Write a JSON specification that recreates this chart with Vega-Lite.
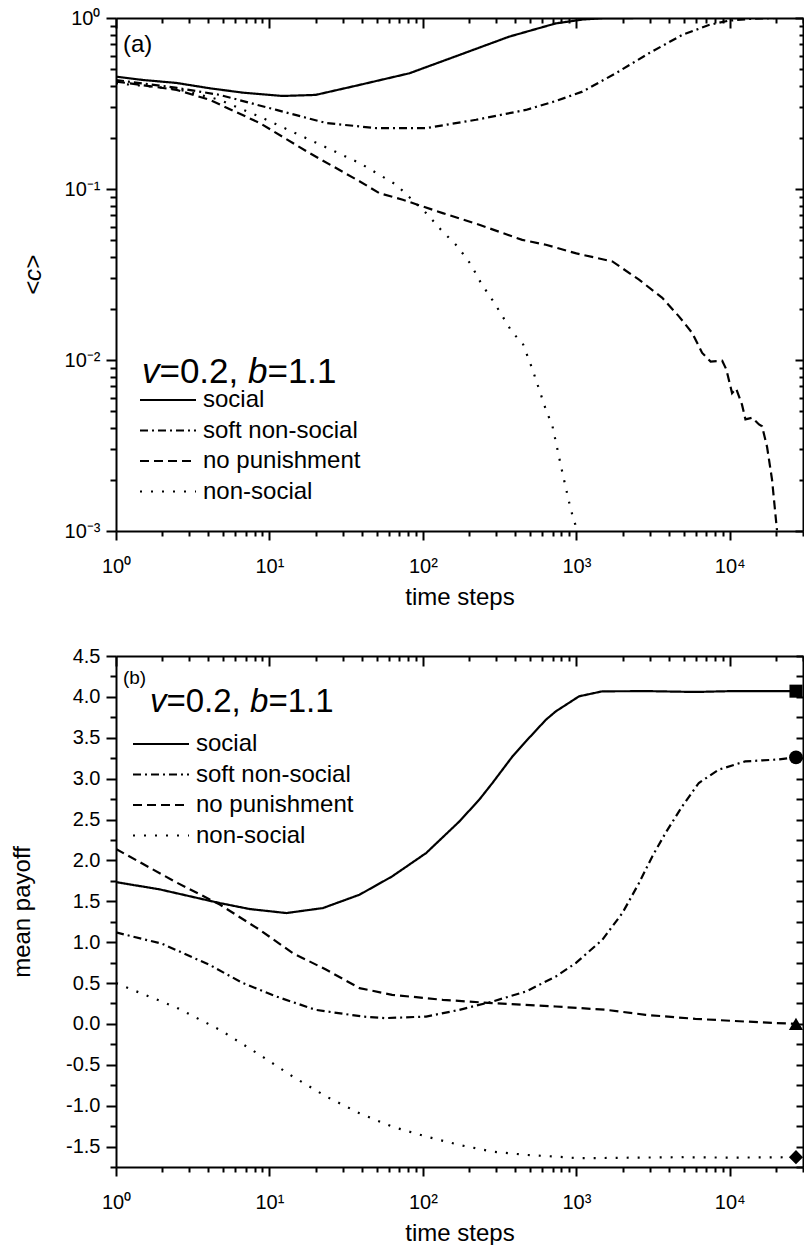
{
  "$schema": "https://vega.github.io/schema/vega-lite/v6.json",
  "background": "white",
  "padding": {"left": 10, "top": 8, "right": 0, "bottom": 0},
  "bounds": "flush",
  "spacing": 125,
  "config": {
    "font": "Liberation Sans",
    "view": {"stroke": null},
    "axis": {
      "domainColor": "black", "domainWidth": 2, "tickColor": "black", "tickWidth": 2,
      "labelColor": "black", "titleColor": "black", "labelFont": "Liberation Sans", "titleFont": "Liberation Sans",
      "labelFontSize": 20, "titleFontSize": 24, "titleFontWeight": "normal", "grid": false,
      "labelFlush": false, "labelOverlap": false
    },
    "legend": {
      "labelFont": "Liberation Sans", "labelFontSize": 24, "labelColor": "black",
      "symbolType": "M-2,0H2", "symbolSize": 784, "symbolStrokeWidth": 2, "symbolStrokeColor": "black",
      "padding": 0, "labelOffset": 20, "rowPadding": 3.5
    }
  },
  "datasets": {
    "c": [
      {"s":"social","t":1,"c":0.454},{"s":"social","t":1.5,"c":0.434},{"s":"social","t":2.48,"c":0.417},{"s":"social","t":4.1,"c":0.388},{"s":"social","t":6.7,"c":0.366},{"s":"social","t":12.2,"c":0.35},{"s":"social","t":20,"c":0.355},{"s":"social","t":38.6,"c":0.406},{"s":"social","t":81.7,"c":0.475},{"s":"social","t":173,"c":0.608},{"s":"social","t":365,"c":0.778},{"s":"social","t":735,"c":0.93},{"s":"social","t":1100,"c":0.98},{"s":"social","t":1500,"c":0.997},{"s":"social","t":2500,"c":1},{"s":"social","t":10000,"c":1},{"s":"social","t":27000,"c":1},
      {"s":"soft non-social","t":1,"c":0.434},{"s":"soft non-social","t":2.5,"c":0.39},{"s":"soft non-social","t":4.75,"c":0.355},{"s":"soft non-social","t":11.1,"c":0.29},{"s":"soft non-social","t":23.5,"c":0.243},{"s":"soft non-social","t":49.6,"c":0.227},{"s":"soft non-social","t":105,"c":0.227},{"s":"soft non-social","t":222,"c":0.254},{"s":"soft non-social","t":469,"c":0.29},{"s":"soft non-social","t":735,"c":0.327},{"s":"soft non-social","t":1095,"c":0.371},{"s":"soft non-social","t":1806,"c":0.475},{"s":"soft non-social","t":2972,"c":0.622},{"s":"soft non-social","t":4896,"c":0.796},{"s":"soft non-social","t":7300,"c":0.91},{"s":"soft non-social","t":9840,"c":0.965},{"s":"soft non-social","t":14000,"c":0.99},{"s":"soft non-social","t":20000,"c":1},{"s":"soft non-social","t":27000,"c":1},
      {"s":"no punishment","t":1,"c":0.425},{"s":"no punishment","t":2.48,"c":0.38},{"s":"no punishment","t":4.09,"c":0.332},{"s":"no punishment","t":8.64,"c":0.243},{"s":"no punishment","t":18.3,"c":0.162},{"s":"no punishment","t":38.6,"c":0.111},{"s":"no punishment","t":52,"c":0.0946},{"s":"no punishment","t":74,"c":0.0865},{"s":"no punishment","t":134.6,"c":0.0723},{"s":"no punishment","t":233,"c":0.0618},{"s":"no punishment","t":444,"c":0.0504},{"s":"no punishment","t":633,"c":0.0472},{"s":"no punishment","t":1000,"c":0.042},{"s":"no punishment","t":1717,"c":0.0377},{"s":"no punishment","t":2561,"c":0.0295},{"s":"no punishment","t":3631,"c":0.0231},{"s":"no punishment","t":4660,"c":0.018},{"s":"no punishment","t":5689,"c":0.0144},{"s":"no punishment","t":6607,"c":0.011},{"s":"no punishment","t":7500,"c":0.0098},{"s":"no punishment","t":8920,"c":0.0099},{"s":"no punishment","t":9500,"c":0.0088},{"s":"no punishment","t":10350,"c":0.0064},{"s":"no punishment","t":11000,"c":0.0068},{"s":"no punishment","t":12000,"c":0.0055},{"s":"no punishment","t":12650,"c":0.0045},{"s":"no punishment","t":14000,"c":0.0046},{"s":"no punishment","t":15500,"c":0.0042},{"s":"no punishment","t":16230,"c":0.0041},{"s":"no punishment","t":17500,"c":0.0031},{"s":"no punishment","t":18850,"c":0.002},{"s":"no punishment","t":20300,"c":0.00101},
      {"s":"non-social","t":1,"c":0.415},{"s":"non-social","t":2.48,"c":0.385},{"s":"non-social","t":4.75,"c":0.332},{"s":"non-social","t":8.64,"c":0.265},{"s":"non-social","t":18.3,"c":0.194},{"s":"non-social","t":38.6,"c":0.142},{"s":"non-social","t":67,"c":0.106},{"s":"non-social","t":105,"c":0.0723},{"s":"non-social","t":131,"c":0.0578},{"s":"non-social","t":168,"c":0.0462},{"s":"non-social","t":206,"c":0.0361},{"s":"non-social","t":239,"c":0.0282},{"s":"non-social","t":292,"c":0.0216},{"s":"non-social","t":384,"c":0.0144},{"s":"non-social","t":446,"c":0.0126},{"s":"non-social","t":518,"c":0.0088},{"s":"non-social","t":633,"c":0.00513},{"s":"non-social","t":699,"c":0.0041},{"s":"non-social","t":811,"c":0.0022},{"s":"non-social","t":919,"c":0.00134},{"s":"non-social","t":991,"c":0.00107},{"s":"non-social","t":1000,"c":0.001}
    ],
    "p": [
      {"s":"social","t":1,"v":1.735},{"s":"social","t":1.93,"v":1.645},{"s":"social","t":4.75,"v":1.478},{"s":"social","t":7.44,"v":1.405},{"s":"social","t":12.9,"v":1.356},{"s":"social","t":22.3,"v":1.417},{"s":"social","t":38.6,"v":1.58},{"s":"social","t":63,"v":1.804},{"s":"social","t":105,"v":2.09},{"s":"social","t":173,"v":2.477},{"s":"social","t":233,"v":2.743},{"s":"social","t":284,"v":2.947},{"s":"social","t":384,"v":3.273},{"s":"social","t":469,"v":3.456},{"s":"social","t":633,"v":3.72},{"s":"social","t":735,"v":3.823},{"s":"social","t":1042,"v":4.007},{"s":"social","t":1477,"v":4.068},{"s":"social","t":3000,"v":4.07},{"s":"social","t":5960,"v":4.06},{"s":"social","t":10000,"v":4.07},{"s":"social","t":27000,"v":4.07},
      {"s":"soft non-social","t":1,"v":1.119},{"s":"soft non-social","t":2,"v":0.98},{"s":"soft non-social","t":4.09,"v":0.72},{"s":"soft non-social","t":6.7,"v":0.5},{"s":"soft non-social","t":11.1,"v":0.335},{"s":"soft non-social","t":20,"v":0.172},{"s":"soft non-social","t":40.6,"v":0.09},{"s":"soft non-social","t":57,"v":0.071},{"s":"soft non-social","t":105,"v":0.09},{"s":"soft non-social","t":173,"v":0.172},{"s":"soft non-social","t":284,"v":0.274},{"s":"soft non-social","t":469,"v":0.396},{"s":"soft non-social","t":735,"v":0.58},{"s":"soft non-social","t":991,"v":0.744},{"s":"soft non-social","t":1477,"v":1.029},{"s":"soft non-social","t":1995,"v":1.356},{"s":"soft non-social","t":2561,"v":1.723},{"s":"soft non-social","t":3126,"v":2.049},{"s":"soft non-social","t":3812,"v":2.335},{"s":"soft non-social","t":4896,"v":2.661},{"s":"soft non-social","t":6283,"v":2.947},{"s":"soft non-social","t":8478,"v":3.11},{"s":"soft non-social","t":12600,"v":3.211},{"s":"soft non-social","t":20800,"v":3.235},{"s":"soft non-social","t":27000,"v":3.26},
      {"s":"no punishment","t":1,"v":2.139},{"s":"no punishment","t":2.48,"v":1.73},{"s":"no punishment","t":4.75,"v":1.46},{"s":"no punishment","t":8.64,"v":1.151},{"s":"no punishment","t":14.2,"v":0.866},{"s":"no punishment","t":23.5,"v":0.662},{"s":"no punishment","t":38.6,"v":0.438},{"s":"no punishment","t":63,"v":0.356},{"s":"no punishment","t":134.6,"v":0.295},{"s":"no punishment","t":284,"v":0.254},{"s":"no punishment","t":735,"v":0.213},{"s":"no punishment","t":1573,"v":0.172},{"s":"no punishment","t":2827,"v":0.111},{"s":"no punishment","t":5960,"v":0.062},{"s":"no punishment","t":12600,"v":0.029},{"s":"no punishment","t":27000,"v":0.0},
      {"s":"non-social","t":1,"v":0.499},{"s":"non-social","t":2.48,"v":0.2},{"s":"non-social","t":4.75,"v":-0.072},{"s":"non-social","t":8.64,"v":-0.378},{"s":"non-social","t":14.2,"v":-0.644},{"s":"non-social","t":23.5,"v":-0.889},{"s":"non-social","t":38.6,"v":-1.092},{"s":"non-social","t":63,"v":-1.256},{"s":"non-social","t":105,"v":-1.378},{"s":"non-social","t":173,"v":-1.48},{"s":"non-social","t":284,"v":-1.562},{"s":"non-social","t":469,"v":-1.602},{"s":"non-social","t":735,"v":-1.623},{"s":"non-social","t":1042,"v":-1.643},{"s":"non-social","t":4660,"v":-1.63},{"s":"non-social","t":10000,"v":-1.635},{"s":"non-social","t":27000,"v":-1.63}
    ],
    "m": [
      {"k":"social","t":27000,"v":4.07},{"k":"soft non-social","t":27000,"v":3.26},{"k":"no punishment","t":27000,"v":0.0},{"k":"non-social","t":27000,"v":-1.63}
    ]
  },
  "resolve": {
    "scale": {"x": "independent", "y": "independent", "strokeDash": "independent"},
    "legend": {"strokeDash": "independent"}
  },
  "vconcat": [
    {
      "width": 687,
      "height": 513,
      "resolve": {"axis": {"x": "independent", "y": "independent"}},
      "layer": [
        {
          "data": {"name": "c"},
          "mark": {"type": "line", "strokeWidth": 2.2, "color": "black", "clip": true},
          "encoding": {
            "x": {"field": "t", "type": "quantitative",
              "scale": {"type": "log", "domain": [1, 30000], "nice": false},
              "axis": {"orient": "bottom", "title": "time steps",
                "values": [1,2,3,4,5,6,7,8,9,10,20,30,40,50,60,70,80,90,100,200,300,400,500,600,700,800,900,1000,2000,3000,4000,5000,6000,7000,8000,9000,10000,20000,30000],
                "labelExpr": "abs(log(datum.value)/LN10 - round(log(datum.value)/LN10)) < 1e-6 ? ['10⁻³','10⁻²','10⁻¹','10⁰','10¹','10²','10³','10⁴'][round(log(datum.value)/LN10)+3] : ''",
                "tickSize": {"condition": {"test": "abs(log(datum.value)/LN10 - round(log(datum.value)/LN10)) < 1e-6", "value": 9}, "value": 5},
                "labelPadding": 16, "titlePadding": 9}},
            "y": {"field": "c", "type": "quantitative",
              "scale": {"type": "log", "domain": [0.001, 1], "nice": false},
              "axis": {"orient": "left", "title": "<c>", "titleFontStyle": "italic",
                "values": [0.001,0.002,0.003,0.004,0.005,0.006,0.007,0.008,0.009,0.01,0.02,0.03,0.04,0.05,0.06,0.07,0.08,0.09,0.1,0.2,0.3,0.4,0.5,0.6,0.7,0.8,0.9,1],
                "labelExpr": "abs(log(datum.value)/LN10 - round(log(datum.value)/LN10)) < 1e-6 ? ['10⁻³','10⁻²','10⁻¹','10⁰','10¹','10²','10³','10⁴'][round(log(datum.value)/LN10)+3] : ''",
                "tickSize": {"condition": {"test": "abs(log(datum.value)/LN10 - round(log(datum.value)/LN10)) < 1e-6", "value": 10}, "value": 6},
                "labelPadding": 6, "titlePadding": 19}},
            "strokeDash": {"field": "s", "type": "nominal",
              "scale": {"domain": ["social", "soft non-social", "no punishment", "non-social"], "range": [[1, 0], [8, 4, 2, 4], [9, 5], [2, 9]]},
              "legend": {"orient": "none", "legendX": 37, "legendY": 367, "title": null}}
          }
        },
        {
          "data": {"values": [{}]},
          "mark": {"type": "text", "text": "(a)", "align": "left", "baseline": "middle", "fontSize": 24, "color": "black"},
          "encoding": {
            "x": {"datum": 1.11, "type": "quantitative",
              "axis": {"orient": "top", "title": null, "labels": false, "domain": true,
                "values": [1,2,3,4,5,6,7,8,9,10,20,30,40,50,60,70,80,90,100,200,300,400,500,600,700,800,900,1000,2000,3000,4000,5000,6000,7000,8000,9000,10000,20000,30000],
                "tickSize": {"condition": {"test": "abs(log(datum.value)/LN10 - round(log(datum.value)/LN10)) < 1e-6", "value": -10}, "value": -5}}},
            "y": {"datum": 0.695, "type": "quantitative",
              "axis": {"orient": "right", "title": null, "labels": false, "domain": true,
                "values": [0.001,0.002,0.003,0.004,0.005,0.006,0.007,0.008,0.009,0.01,0.02,0.03,0.04,0.05,0.06,0.07,0.08,0.09,0.1,0.2,0.3,0.4,0.5,0.6,0.7,0.8,0.9,1],
                "tickSize": {"condition": {"test": "abs(log(datum.value)/LN10 - round(log(datum.value)/LN10)) < 1e-6", "value": -8}, "value": -4}}}
          }
        },
        {
          "data": {"values": [{}]},
          "mark": {"type": "text", "text": "v", "align": "left", "baseline": "middle", "fontSize": 35, "fontStyle": "italic", "color": "black"},
          "encoding": {"x": {"datum": 1.476, "type": "quantitative", "axis": null}, "y": {"datum": 0.00855, "type": "quantitative", "axis": null}}
        },
        {
          "data": {"values": [{}]},
          "mark": {"type": "text", "text": "=0.2,", "align": "left", "baseline": "middle", "fontSize": 35, "dx": 17.5, "color": "black"},
          "encoding": {"x": {"datum": 1.476, "type": "quantitative", "axis": null}, "y": {"datum": 0.00855, "type": "quantitative", "axis": null}}
        },
        {
          "data": {"values": [{}]},
          "mark": {"type": "text", "text": "b", "align": "left", "baseline": "middle", "fontSize": 35, "fontStyle": "italic", "dx": 106, "color": "black"},
          "encoding": {"x": {"datum": 1.476, "type": "quantitative", "axis": null}, "y": {"datum": 0.00855, "type": "quantitative", "axis": null}}
        },
        {
          "data": {"values": [{}]},
          "mark": {"type": "text", "text": "=1.1", "align": "left", "baseline": "middle", "fontSize": 35, "dx": 125.5, "color": "black"},
          "encoding": {"x": {"datum": 1.476, "type": "quantitative", "axis": null}, "y": {"datum": 0.00855, "type": "quantitative", "axis": null}}
        }
      ]
    },
    {
      "width": 687,
      "height": 511,
      "resolve": {"axis": {"x": "independent", "y": "independent"}},
      "layer": [
        {
          "data": {"name": "p"},
          "mark": {"type": "line", "strokeWidth": 2.2, "color": "black", "clip": true},
          "encoding": {
            "x": {"field": "t", "type": "quantitative",
              "scale": {"type": "log", "domain": [1, 30000], "nice": false},
              "axis": {"orient": "bottom", "title": "time steps",
                "values": [1,2,3,4,5,6,7,8,9,10,20,30,40,50,60,70,80,90,100,200,300,400,500,600,700,800,900,1000,2000,3000,4000,5000,6000,7000,8000,9000,10000,20000,30000],
                "labelExpr": "abs(log(datum.value)/LN10 - round(log(datum.value)/LN10)) < 1e-6 ? ['10⁻³','10⁻²','10⁻¹','10⁰','10¹','10²','10³','10⁴'][round(log(datum.value)/LN10)+3] : ''",
                "tickSize": {"condition": {"test": "abs(log(datum.value)/LN10 - round(log(datum.value)/LN10)) < 1e-6", "value": 9}, "value": 5},
                "labelPadding": 16, "titlePadding": 9}},
            "y": {"field": "v", "type": "quantitative",
              "scale": {"domain": [-1.75, 4.5], "nice": false, "zero": false},
              "axis": {"orient": "left", "title": "mean payoff",
                "values": [-1.75,-1.5,-1.25,-1,-0.75,-0.5,-0.25,0,0.25,0.5,0.75,1,1.25,1.5,1.75,2,2.25,2.5,2.75,3,3.25,3.5,3.75,4,4.25,4.5],
                "labelExpr": "abs(datum.value*2 - round(datum.value*2)) < 1e-6 ? (datum.value < 0 ? '-' : '') + format(abs(datum.value), '.1f') : ''",
                "tickSize": {"condition": {"test": "abs(datum.value*2 - round(datum.value*2)) < 1e-6", "value": 10}, "value": 6},
                "labelPadding": 6, "titlePadding": 31}},
            "strokeDash": {"field": "s", "type": "nominal",
              "scale": {"domain": ["social", "soft non-social", "no punishment", "non-social"], "range": [[1, 0], [8, 4, 2, 4], [9, 5], [2, 9]]},
              "legend": {"orient": "none", "legendX": 30, "legendY": 73, "title": null}}
          }
        },
        {
          "data": {"name": "m"},
          "transform": [{"filter": "datum.k === 'social'"}],
          "mark": {"type": "point", "shape": "square", "filled": true, "size": 170, "color": "black", "opacity": 1},
          "encoding": {"x": {"field": "t", "type": "quantitative", "axis": null}, "y": {"field": "v", "type": "quantitative", "axis": null}}
        },
        {
          "data": {"name": "m"},
          "transform": [{"filter": "datum.k === 'soft non-social'"}],
          "mark": {"type": "point", "shape": "circle", "filled": true, "size": 190, "color": "black", "opacity": 1},
          "encoding": {"x": {"field": "t", "type": "quantitative", "axis": null}, "y": {"field": "v", "type": "quantitative", "axis": null}}
        },
        {
          "data": {"name": "m"},
          "transform": [{"filter": "datum.k === 'no punishment'"}],
          "mark": {"type": "point", "shape": "triangle-up", "filled": true, "size": 200, "color": "black", "opacity": 1},
          "encoding": {"x": {"field": "t", "type": "quantitative", "axis": null}, "y": {"field": "v", "type": "quantitative", "axis": null}}
        },
        {
          "data": {"name": "m"},
          "transform": [{"filter": "datum.k === 'non-social'"}],
          "mark": {"type": "point", "shape": "diamond", "filled": true, "size": 200, "color": "black", "opacity": 1},
          "encoding": {"x": {"field": "t", "type": "quantitative", "axis": null}, "y": {"field": "v", "type": "quantitative", "axis": null}}
        },
        {
          "data": {"values": [{}]},
          "mark": {"type": "text", "text": "(b)", "align": "left", "baseline": "middle", "fontSize": 19, "color": "black"},
          "encoding": {
            "x": {"datum": 1.11, "type": "quantitative",
              "axis": {"orient": "top", "title": null, "labels": false, "domain": true,
                "values": [1,2,3,4,5,6,7,8,9,10,20,30,40,50,60,70,80,90,100,200,300,400,500,600,700,800,900,1000,2000,3000,4000,5000,6000,7000,8000,9000,10000,20000,30000],
                "tickSize": {"condition": {"test": "abs(log(datum.value)/LN10 - round(log(datum.value)/LN10)) < 1e-6", "value": -10}, "value": -5}}},
            "y": {"datum": 4.236, "type": "quantitative",
              "axis": {"orient": "right", "title": null, "labels": false, "domain": true,
                "values": [-1.75,-1.5,-1.25,-1,-0.75,-0.5,-0.25,0,0.25,0.5,0.75,1,1.25,1.5,1.75,2,2.25,2.5,2.75,3,3.25,3.5,3.75,4,4.25,4.5],
                "tickSize": -7}}
          }
        },
        {
          "data": {"values": [{}]},
          "mark": {"type": "text", "text": "v", "align": "left", "baseline": "middle", "fontSize": 33, "fontStyle": "italic", "color": "black"},
          "encoding": {"x": {"datum": 1.664, "type": "quantitative", "axis": null}, "y": {"datum": 3.942, "type": "quantitative", "axis": null}}
        },
        {
          "data": {"values": [{}]},
          "mark": {"type": "text", "text": "=0.2,", "align": "left", "baseline": "middle", "fontSize": 33, "dx": 16.5, "color": "black"},
          "encoding": {"x": {"datum": 1.664, "type": "quantitative", "axis": null}, "y": {"datum": 3.942, "type": "quantitative", "axis": null}}
        },
        {
          "data": {"values": [{}]},
          "mark": {"type": "text", "text": "b", "align": "left", "baseline": "middle", "fontSize": 33, "fontStyle": "italic", "dx": 100, "color": "black"},
          "encoding": {"x": {"datum": 1.664, "type": "quantitative", "axis": null}, "y": {"datum": 3.942, "type": "quantitative", "axis": null}}
        },
        {
          "data": {"values": [{}]},
          "mark": {"type": "text", "text": "=1.1", "align": "left", "baseline": "middle", "fontSize": 33, "dx": 118.5, "color": "black"},
          "encoding": {"x": {"datum": 1.664, "type": "quantitative", "axis": null}, "y": {"datum": 3.942, "type": "quantitative", "axis": null}}
        }
      ]
    }
  ]
}
